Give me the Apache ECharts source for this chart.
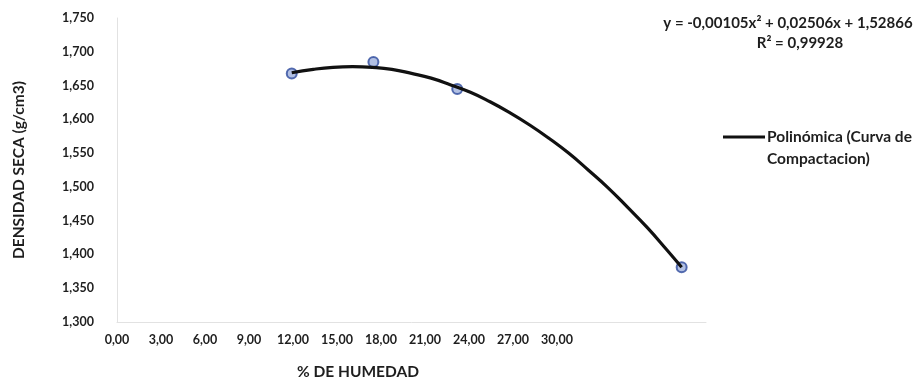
<!DOCTYPE html>
<html>
<head>
<meta charset="utf-8">
<script src="https://cdn.jsdelivr.net/npm/echarts@6/dist/echarts.min.js"></script>
<style>
html,body{margin:0;padding:0;background:#fff;}
#chart{width:924px;height:385px;}
</style>
</head>
<body>
<div id="chart"></div>
<script>
// Measured points (Curva de Compactacion)
const humedad = [8.90, 13.06, 17.33, 28.76];
const densidad = [1.668, 1.685, 1.645, 1.381];
// Polynomial trendline
const curvaX = [8.90, 10, 11, 12, 13, 14, 15, 16, 17, 18, 19, 20, 21, 22, 23, 24, 25, 26, 27, 28, 28.76];
const curvaY = [1.669, 1.674, 1.677, 1.678, 1.677, 1.674, 1.668, 1.661, 1.651, 1.640, 1.626, 1.610, 1.592, 1.572, 1.550, 1.525, 1.499, 1.470, 1.440, 1.407, 1.381];
// Axis ticks
const xTickMin = 0, xTickMax = 30, xTickStep = 3;
const yTickMin = 1.30, yTickMax = 1.75, yTickStep = 0.05;
const ecuacion = 'y = -0,00105x² + 0,02506x + 1,52866';
const r2 = 'R² = 0,99928';
const serieNombre = 'Polinómica (Curva de Compactacion)';

const FONT = 'Lato';
const TXT = '#1e1e1e';
const chart = echarts.init(document.getElementById('chart'), null, {renderer: 'canvas'});

const fmtX = v => v.toFixed(2).replace('.', ',');
const fmtY = v => v.toFixed(3).replace('.', ',');

chart.setOption({
  backgroundColor: '#ffffff',
  animation: false,
  textStyle: {fontFamily: FONT},
  grid: [
    {left: 117, right: 218, top: 18, bottom: 63},
    {left: 117, right: 367, top: 18, bottom: 63}
  ],
  xAxis: [
    {
      type: 'value', gridIndex: 0, min: xTickMin, max: xTickMax, interval: xTickStep,
      axisLine: {show: true, lineStyle: {color: '#e2e2e2', width: 1}},
      axisTick: {show: false}, axisLabel: {show: false}, splitLine: {show: false}
    },
    {
      type: 'value', gridIndex: 1, min: xTickMin, max: xTickMax, interval: xTickStep,
      axisLine: {show: false}, axisTick: {show: false}, splitLine: {show: false},
      axisLabel: {show: true, formatter: fmtX, color: TXT, fontFamily: FONT, fontWeight: 'bold', fontSize: 12.5, margin: 27},
      name: '% DE HUMEDAD', nameLocation: 'middle', nameGap: 58,
      nameTextStyle: {color: TXT, fontFamily: FONT, fontWeight: 'bold', fontSize: 15.5, padding: [0, 0, 0, 42]}
    }
  ],
  yAxis: [
    {
      type: 'value', gridIndex: 0, min: yTickMin, max: yTickMax, interval: yTickStep,
      axisLine: {show: true, lineStyle: {color: '#e2e2e2', width: 1}},
      axisTick: {show: false}, splitLine: {show: false},
      axisLabel: {formatter: fmtY, color: TXT, fontFamily: FONT, fontWeight: 'bold', fontSize: 12.5, margin: 23},
      name: 'DENSIDAD SECA (g/cm3)', nameLocation: 'middle', nameGap: 90,
      nameTextStyle: {color: TXT, fontFamily: FONT, fontWeight: 'bold', fontSize: 15.5}
    },
    {
      type: 'value', gridIndex: 1, min: yTickMin, max: yTickMax, show: false
    }
  ],
  legend: {
    data: [serieNombre],
    left: 723, top: 129, padding: 0,
    icon: 'rect', itemWidth: 42, itemHeight: 3,
    formatter: () => 'Polinómica (Curva de',
    textStyle: {color: TXT, fontFamily: FONT, fontWeight: 'bold', fontSize: 15.5, padding: [0, 0, 0, -3]}
  },
  graphic: [
    {type: 'text', left: 767, top: 151, style: {text: 'Compactacion)', fill: TXT, font: 'bold 15.5px ' + FONT}},
    {type: 'text', x: 788, y: 23, style: {text: ecuacion, fill: TXT, font: 'bold 15px ' + FONT, textAlign: 'center', textVerticalAlign: 'middle'}},
    {type: 'text', x: 800, y: 43, style: {text: r2, fill: TXT, font: 'bold 15px ' + FONT, textAlign: 'center', textVerticalAlign: 'middle'}}
  ],
  series: [
    {
      name: 'Curva de Compactacion', type: 'scatter', xAxisIndex: 0, yAxisIndex: 0,
      data: humedad.map((x, i) => [x, densidad[i]]),
      symbol: 'circle', symbolSize: 10, z: 2,
      itemStyle: {color: '#9fb0dc', borderColor: '#2d4a9c', borderWidth: 2}
    },
    {
      name: serieNombre, type: 'line', xAxisIndex: 0, yAxisIndex: 0,
      data: curvaX.map((x, i) => [x, curvaY[i]]),
      smooth: true, showSymbol: false, symbol: 'none', z: 3,
      lineStyle: {color: '#111111', width: 3.2},
      itemStyle: {color: '#111111'}
    }
  ]
});
</script>
</body>
</html>
